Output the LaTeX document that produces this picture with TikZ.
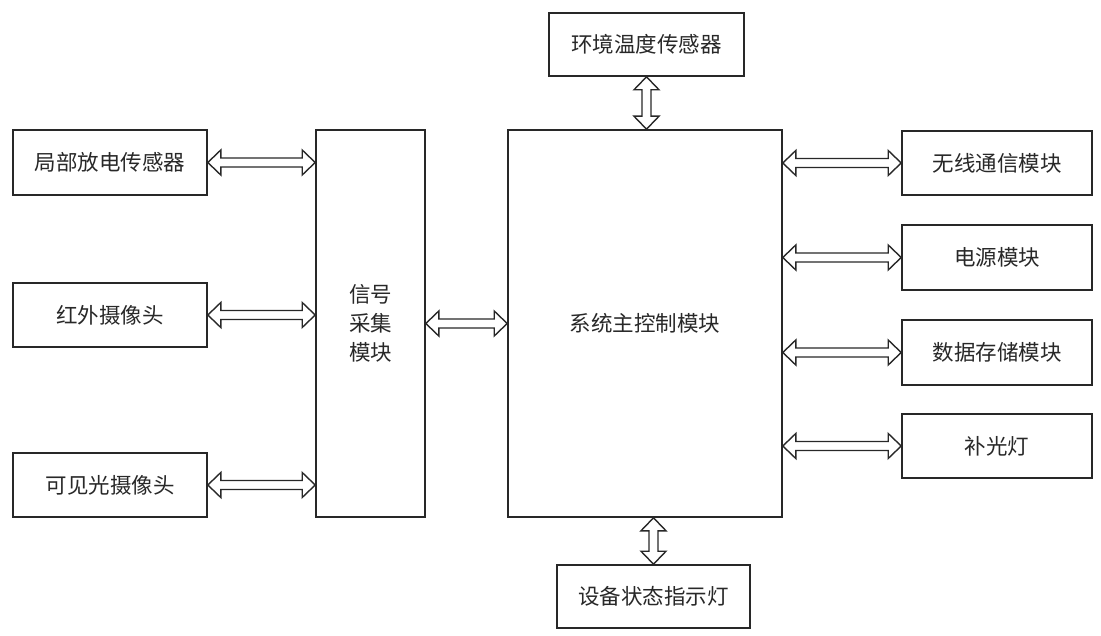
\documentclass[tikz,border=0pt]{standalone}
\usepackage{fontspec}
\setmainfont{Noto Sans CJK SC}
\usetikzlibrary{calc}
\definecolor{ink}{RGB}{40,40,40}
\tikzset{
  box/.style={draw=ink, line width=1.6pt, inner sep=0pt, font=\fontsize{21.5}{29}\selectfont, text=ink, align=center},
  harrow/.style={draw=ink, line width=1.4pt, line join=miter, fill=white,
    to path={let \p1=(\tikztostart), \p2=(\tikztotarget) in
      (\x1,\y1) -- (\x1+13pt,\y1+12.5pt) -- (\x1+13pt,\y1+4.5pt) -- (\x2-13pt,\y1+4.5pt) -- (\x2-13pt,\y1+12.5pt) -- (\x2,\y1)
      -- (\x2-13pt,\y1-12.5pt) -- (\x2-13pt,\y1-4.5pt) -- (\x1+13pt,\y1-4.5pt) -- (\x1+13pt,\y1-12.5pt) -- cycle}},
  varrow/.style={draw=ink, line width=1.4pt, line join=miter, fill=white,
    to path={let \p1=(\tikztostart), \p2=(\tikztotarget) in
      (\x1,\y1) -- (\x1+12.5pt,\y1-13pt) -- (\x1+4.5pt,\y1-13pt) -- (\x1+4.5pt,\y2+13pt) -- (\x1+12.5pt,\y2+13pt) -- (\x1,\y2)
      -- (\x1-12.5pt,\y2+13pt) -- (\x1-4.5pt,\y2+13pt) -- (\x1-4.5pt,\y1-13pt) -- (\x1-12.5pt,\y1-13pt) -- cycle}}
}
\begin{document}
\begin{tikzpicture}[x=1pt,y=-1pt]
\useasboundingbox[fill=white] (0,0) rectangle (1101,636);
% left sensors
\node[box, minimum width=194pt, minimum height=65pt] (pd) at (110,162.5) {局部放电传感器};
\node[box, minimum width=194pt, minimum height=64pt] (ir) at (110,315) {红外摄像头};
\node[box, minimum width=194pt, minimum height=64pt] (vis) at (110,485) {可见光摄像头};
% signal acquisition
\node[box, minimum width=109pt, minimum height=387pt] (sig) at (370.5,323.5) {信号\\采集\\模块};
% main control
\node[box, minimum width=274pt, minimum height=387pt] (main) at (645,323.5) {系统主控制模块};
% top / bottom
\node[box, minimum width=195pt, minimum height=63pt] (temp) at (646.5,44.5) {环境温度传感器};
\node[box, minimum width=193pt, minimum height=63pt] (led) at (653.5,596.5) {设备状态指示灯};
% right modules
\node[box, minimum width=190pt, minimum height=64pt] (wl) at (997,163) {无线通信模块};
\node[box, minimum width=190pt, minimum height=65pt] (pw) at (997,257.5) {电源模块};
\node[box, minimum width=190pt, minimum height=65pt] (ds) at (997,352.5) {数据存储模块};
\node[box, minimum width=190pt, minimum height=64pt] (fl) at (997,446) {补光灯};
% arrows
\draw[harrow] (pd.east) to (sig.west |- pd.east);
\draw[harrow] (ir.east) to (sig.west |- ir.east);
\draw[harrow] (vis.east) to (sig.west |- vis.east);
\draw[harrow] (sig.east) to (main.west);
\draw[harrow] (main.east |- wl.west) to (wl.west);
\draw[harrow] (main.east |- pw.west) to (pw.west);
\draw[harrow] (main.east |- ds.west) to (ds.west);
\draw[harrow] (main.east |- fl.west) to (fl.west);
\draw[varrow] (temp.south) to (temp.south |- main.north);
\draw[varrow] (main.south -| led.north) to (led.north);
\end{tikzpicture}
\end{document}
